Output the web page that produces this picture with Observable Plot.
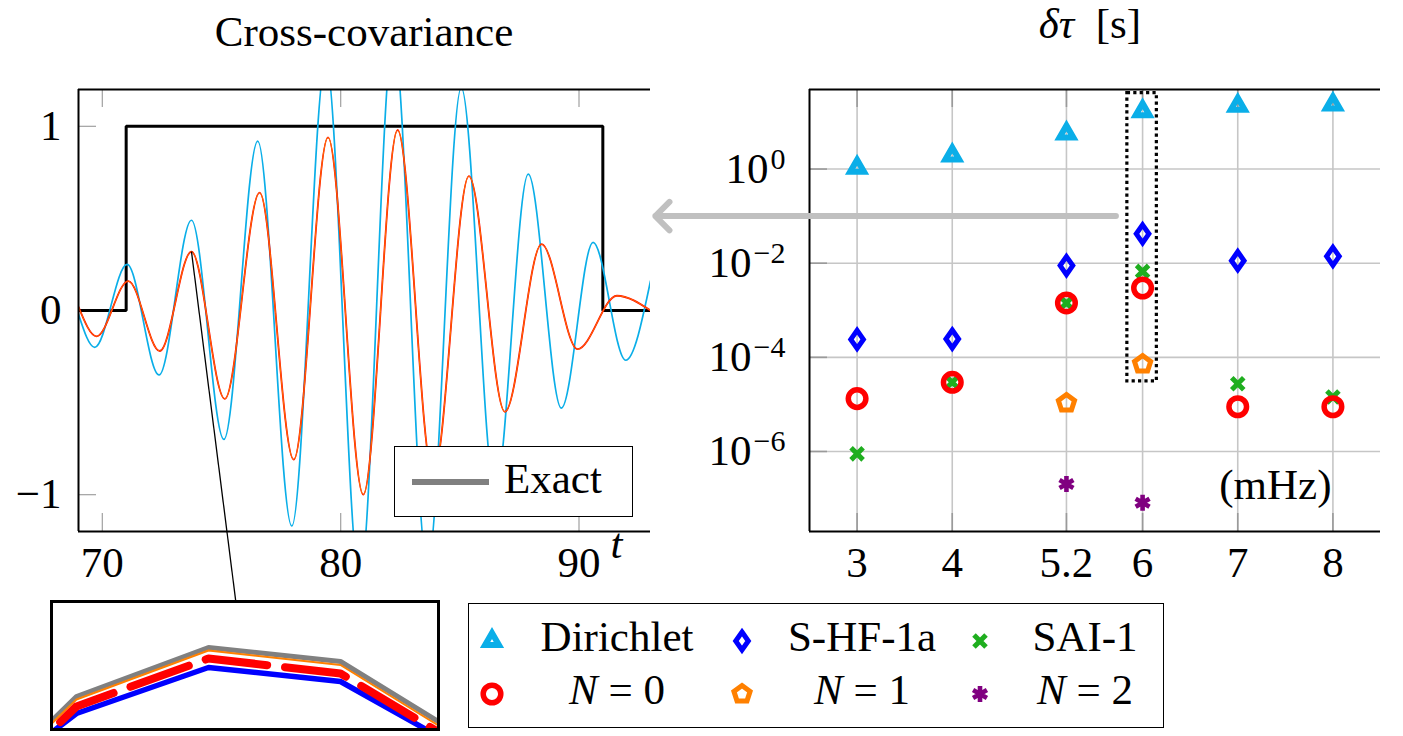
<!DOCTYPE html>
<html>
<head>
<meta charset="utf-8">
<script src="https://cdn.jsdelivr.net/npm/d3@7"></script>
<script src="https://cdn.jsdelivr.net/npm/@observablehq/plot@0.6"></script>
<style>
  html, body { margin: 0; padding: 0; background: #fff; }
  #fig { position: relative; width: 1403px; height: 736px; overflow: hidden;
         font-family: "Liberation Serif", "Tinos", "Times New Roman", "DejaVu Serif", serif;
         font-size: 43px; color: #000; }
  .abs { position: absolute; line-height: 1; white-space: nowrap; }
  .panel { position: absolute; }
  .panel svg { overflow: visible; }
  .box { position: absolute; box-sizing: border-box; background: #fff; }
</style>
</head>
<body>
<div id="fig"></div>
<script>
// ---------- left panel: cross-covariance against lag t ----------
const lagDomain = [69, 93];
const covDomain = [-1.2, 1.2];
const lagTicks = [70, 80, 90];
const covTicks = [-1, 0, 1];

// window of the exact cross-covariance (step)
const exactT = [69, 71, 91, 93];
const exactC = [0, 1, 0, 0];

// Dirichlet solution: turning points of the oscillation
const diriT = [69.00, 69.68, 71.04, 72.38, 73.74, 75.10, 76.52, 77.95, 79.38, 80.80,
               82.21, 83.64, 85.06, 86.48, 87.87, 89.26, 90.59, 91.96, 93.00];
const diriC = [-0.02, -0.20, 0.25, -0.35, 0.49, -0.70, 0.92, -1.17, 1.36, -1.47,
               1.49, -1.39, 1.21, -0.98, 0.74, -0.53, 0.37, -0.27, 0.16];

// exact / S-HF-1a / N = 0 / N = 1 curves (indistinguishable at this scale)
const approxT = [69.00, 69.76, 71.09, 72.41, 73.74, 75.14, 76.60, 78.03, 79.47, 80.95,
                 82.39, 83.88, 85.38, 86.89, 88.43, 89.94, 91.59, 93.00];
const approxC = [0.02, -0.14, 0.16, -0.22, 0.32, -0.48, 0.64, -0.81, 0.94, -1.00,
                 0.98, -0.90, 0.73, -0.55, 0.36, -0.21, 0.08, 0.00];

// peak that is magnified in the inset, and where the leader line meets the inset
const zoomPeak = 4;
const zoomAnchor = {t: 75.6, c: -1.58};

// ---------- inset: samples around the magnified peak ----------
const zoomK = [-1, 0, 1, 2, 3];
const zoomExact = [-95, 34, 83, 69, -12];
const zoomN1 = [-97, 31, 80, 65.5, -16];
const zoomN0 = [-102, 24, 72, 57, -22];
const zoomSHF = [-84, 17, 63, 49, -25];
const zoomKDomain = [-0.174, 2.735];
const zoomVDomain = [2, 127];

// ---------- right panel: travel-time difference per frequency ----------
const freqs = [3, 4, 5.2, 6, 7, 8];
const freqDomain = [2.5, 8.5];
const dtDomain = [Math.pow(10, -7.7), Math.pow(10, 1.69)];
const decadeTicks = [1, 1e-2, 1e-4, 1e-6];
const dirichlet = [1.07, 1.95, 5.7, 16.9, 22, 23.6];
const shf1a = [2.4e-4, 2.45e-4, 8.9e-3, 4.2e-2, 1.13e-2, 1.4e-2];
const sai1 = [8.9e-7, 2.95e-5, 1.43e-3, 6.7e-3, 2.76e-5, 1.44e-5];
const n0 = [1.33e-5, 2.95e-5, 1.43e-3, 2.97e-3, 8.9e-6, 8.9e-6];
const n1 = [null, null, 1.07e-5, 7.2e-5, null, null];
const n2 = [null, null, 2.04e-7, 8.1e-8, null, null];
const highlight = [{x1: 5.84, x2: 6.15, y1: 3.1e-5, y2: 41}];
const pointer = [{x1: 5.72, x2: 0.88, y: 0.1}];

// ---------- colours ----------
const cyan = "#0aaee8", blue = "#0000ff", green = "#1fae1f",
      red = "#ff0000", orange = "#ff8000", purple = "#800080", grey = "#808080";

// ---------- marker shapes (radius taken from the symbol size) ----------
const rad = size => Math.sqrt(size / Math.PI);
const triangle = {draw(c, s) { const r = rad(s);
  c.moveTo(0, -r); c.lineTo(0.866 * r, 0.5 * r); c.lineTo(-0.866 * r, 0.5 * r); c.closePath(); }};
const slimDiamond = {draw(c, s) { const r = rad(s);
  c.moveTo(0, -r); c.lineTo(0.7 * r, 0); c.lineTo(0, r); c.lineTo(-0.7 * r, 0); c.closePath(); }};
const ring = {draw(c, s) { const r = rad(s); c.moveTo(r, 0); c.arc(0, 0, r, 0, 2 * Math.PI); c.closePath(); }};
const cross = {draw(c, s) { const a = rad(s) * 0.7071;
  c.moveTo(-a, -a); c.lineTo(a, a); c.moveTo(a, -a); c.lineTo(-a, a); }};
const pentagon = {draw(c, s) { const r = rad(s);
  for (let k = 0; k < 5; ++k) { const a = -Math.PI / 2 + k * 2 * Math.PI / 5;
    k ? c.lineTo(r * Math.cos(a), r * Math.sin(a)) : c.moveTo(r * Math.cos(a), r * Math.sin(a)); }
  c.closePath(); }};
const asterisk = {draw(c, s) { const r = rad(s);
  for (const a of [90, 30, 150]) { const t = a * Math.PI / 180;
    c.moveTo(r * Math.cos(t), -r * Math.sin(t)); c.lineTo(-r * Math.cos(t), r * Math.sin(t)); } }};

const series = [
  {label: "Dirichlet", values: dirichlet, symbol: triangle, r: 8, color: cyan, width: 6},
  {label: "S-HF-1a", values: shf1a, symbol: slimDiamond, r: 9, color: blue, width: 5},
  {label: "SAI-1", values: sai1, symbol: cross, r: 8.5, color: green, width: 5},
  {label: "N = 0", values: n0, symbol: ring, r: 8.8, color: red, width: 5.5},
  {label: "N = 1", values: n1, symbol: pentagon, r: 8.5, color: orange, width: 5},
  {label: "N = 2", values: n2, symbol: asterisk, r: 8, color: purple, width: 4.6}
];

const serif = '"Liberation Serif", "Tinos", "Times New Roman", "DejaVu Serif", serif';
const baseStyle = {fontFamily: serif, fontSize: "43px", color: "#000",
                   overflow: "visible", background: "none"};
const minus = d => d < 0 ? "\u2212" + (-d) : String(d);
const fig = document.getElementById("fig");

function place(node, left, top) {
  const wrap = document.createElement("div");
  wrap.className = "panel";
  wrap.style.left = left + "px";
  wrap.style.top = top + "px";
  wrap.appendChild(node);
  fig.appendChild(wrap);
  return wrap;
}

// ---------- left panel ----------
const left = Plot.plot({
  width: 700, height: 600,
  marginLeft: 78, marginRight: 50, marginTop: 89, marginBottom: 69,
  x: {domain: lagDomain, ticks: lagTicks, tickSize: 0, tickPadding: 15, label: null},
  y: {domain: covDomain, ticks: covTicks, tickSize: 0, tickPadding: 17, label: null, tickFormat: minus},
  style: baseStyle,
  marks: [
    Plot.ruleX(lagTicks, {x: d => d, insetTop: 424, stroke: "#a8a8a8", strokeWidth: 1.3}),
    Plot.ruleX(lagTicks, {x: d => d, insetBottom: 424, stroke: "#a8a8a8", strokeWidth: 1.3}),
    Plot.ruleY(covTicks, {y: d => d, insetRight: 554, stroke: "#a8a8a8", strokeWidth: 1.3}),
    Plot.line(exactT, {x: exactT, y: exactC, curve: "step-after", stroke: "#000",
                       strokeWidth: 3, strokeLinejoin: "miter", clip: true}),
    Plot.line(diriT, {x: diriT, y: diriC, curve: "monotone-x", stroke: cyan, strokeWidth: 1.7, clip: true}),
    Plot.line(approxT, {x: approxT, y: approxC, curve: "monotone-x", stroke: red, strokeWidth: 1.8, clip: true}),
    Plot.line(approxT, {x: approxT, y: approxC, curve: "monotone-x", stroke: orange, strokeWidth: 0.9, clip: true}),
    Plot.ruleX([lagDomain[0]], {stroke: "#000", strokeWidth: 2}),
    Plot.ruleY(covDomain, {stroke: "#000", strokeWidth: 2}),
    Plot.link([zoomPeak], {x1: i => approxT[i], y1: i => approxC[i], x2: () => zoomAnchor.t, y2: () => zoomAnchor.c,
                           stroke: "#000", strokeWidth: 1.3}),
    Plot.text(["t"], {frameAnchor: "bottom-right", dx: -28, dy: 26, fontStyle: "italic"})
  ]
});
place(left, 0, 0);

// ---------- right panel ----------
const right = Plot.plot({
  width: 703, height: 600,
  marginLeft: 109, marginRight: 23, marginTop: 89, marginBottom: 69,
  x: {domain: freqDomain, ticks: freqs, tickSize: 0, tickPadding: 15, label: null, tickFormat: d => String(d)},
  y: {type: "log", domain: dtDomain, ticks: decadeTicks, tickSize: 0, tickPadding: 24, label: null,
      tickFormat: d => "10^" + minus(Math.round(Math.log10(d)))},
  style: baseStyle,
  marks: [
    Plot.ruleX(freqs, {x: d => d, stroke: "#c6c6c6", strokeWidth: 1.6}),
    Plot.ruleY(decadeTicks, {y: d => d, stroke: "#c6c6c6", strokeWidth: 1.6}),
    Plot.ruleX(freqs, {x: d => d, insetTop: 424, stroke: "#9a9a9a", strokeWidth: 1.6}),
    Plot.ruleX(freqs, {x: d => d, insetBottom: 424, stroke: "#9a9a9a", strokeWidth: 1.6}),
    Plot.ruleY(decadeTicks, {y: d => d, insetRight: 553, stroke: "#9a9a9a", strokeWidth: 1.6}),
    Plot.ruleX([freqDomain[0]], {stroke: "#000", strokeWidth: 2}),
    Plot.ruleY(dtDomain, {stroke: "#000", strokeWidth: 2}),
    Plot.rect(highlight, {x1: "x1", x2: "x2", y1: "y1", y2: "y2", fill: "none", stroke: "#000",
                          strokeWidth: 3.2, strokeDasharray: "3.2 3.2"}),
    Plot.arrow(pointer, {x1: "x1", x2: "x2", y1: "y", y2: "y", stroke: "#c0c0c0", strokeWidth: 6,
                         headLength: 5, headAngle: 90}),
    ...series.map(s => Plot.dot(freqs, {x: freqs, y: s.values, symbol: s.symbol, r: s.r,
                                        stroke: s.color, strokeWidth: s.width, fill: "none",
                                        strokeLinejoin: "miter"})),
    Plot.text(["(mHz)"], {frameAnchor: "bottom-right", dx: -49, dy: -33, textAnchor: "end"})
  ]
});
// turn "10^e" tick labels into a base with a raised exponent
d3.select(right).selectAll("text").each(function() {
  const m = /^10\^(.+)$/.exec(this.textContent);
  if (!m) return;
  const t = d3.select(this).text("10");
  t.append("tspan").attr("dx", 2).attr("dy", -14).attr("font-size", 30).text(m[1]);
});
place(right, 700, 0);

// ---------- inset ----------
const insetBox = document.createElement("div");
insetBox.className = "box";
Object.assign(insetBox.style, {left: "50px", top: "600px", width: "390px", height: "131px", border: "3px solid #000"});
fig.appendChild(insetBox);
const inset = Plot.plot({
  width: 384, height: 125, margin: 0,
  x: {domain: zoomKDomain, axis: null},
  y: {domain: zoomVDomain, axis: null},
  style: {background: "none"},
  marks: [
    Plot.line(zoomK, {x: zoomK, y: zoomExact, stroke: grey, strokeWidth: 5, strokeLinejoin: "miter", clip: true}),
    Plot.line(zoomK, {x: zoomK, y: zoomSHF, stroke: blue, strokeWidth: 5.5, strokeLinejoin: "miter", clip: true}),
    Plot.line(zoomK, {x: zoomK, y: zoomN1, stroke: orange, strokeWidth: 2, strokeLinejoin: "miter", clip: true}),
    Plot.line(zoomK, {x: zoomK, y: zoomN0, stroke: red, strokeWidth: 8, strokeDasharray: "62 18",
                      strokeLinecap: "round", clip: true})
  ]
});
insetBox.appendChild(inset);

// ---------- titles ----------
function label(html, x, baseline, anchor) {
  const d = document.createElement("div");
  d.className = "abs";
  d.innerHTML = html;
  d.style.left = x + "px";
  d.style.top = (baseline - 36) + "px";
  if (anchor === "middle") d.style.transform = "translateX(-50%)";
  fig.appendChild(d);
  return d;
}
label("Cross-covariance", 364, 46, "middle");
label("<i>δτ</i>&nbsp;&nbsp;[s]", 1090, 38, "middle");

// ---------- "Exact" legend ----------
const exactBox = document.createElement("div");
exactBox.className = "box";
Object.assign(exactBox.style, {left: "394px", top: "446px", width: "239px", height: "71px", border: "1.5px solid #000"});
exactBox.innerHTML = `<svg width="239" height="71" style="position:absolute;left:-1.5px;top:-1.5px">
  <line x1="18" x2="95" y1="36" y2="36" stroke="${grey}" stroke-width="6"/></svg>`;
fig.appendChild(exactBox);
label("Exact", 504, 493);

// ---------- marker legend ----------
const legendBox = document.createElement("div");
legendBox.className = "box";
Object.assign(legendBox.style, {left: "468px", top: "603px", width: "696px", height: "125px", border: "1.5px solid #000"});
fig.appendChild(legendBox);
const symX = [23, 273, 511], textX = [148, 393, 616], rowY = [37, 90], rowBase = [47, 100];
series.forEach((s, i) => {
  const col = i % 3, row = Math.floor(i / 3);
  const path = d3.symbol(s.symbol, Math.PI * s.r * s.r)();
  const svg = d3.select(legendBox).append("svg")
    .attr("width", 40).attr("height", 40)
    .style("position", "absolute").style("overflow", "visible")
    .style("left", (symX[col] - 20) + "px").style("top", (rowY[row] - 20) + "px");
  svg.append("path").attr("d", path).attr("transform", "translate(20,20)")
    .attr("fill", "none").attr("stroke", s.color).attr("stroke-width", s.width)
    .attr("stroke-linejoin", "miter");
  const t = document.createElement("div");
  t.className = "abs";
  t.innerHTML = s.label.replace(/^N/, "<i>N</i>");
  t.style.left = textX[col] + "px";
  t.style.top = (rowBase[row] - 36) + "px";
  t.style.transform = "translateX(-50%)";
  legendBox.appendChild(t);
});
</script>
</body>
</html>
